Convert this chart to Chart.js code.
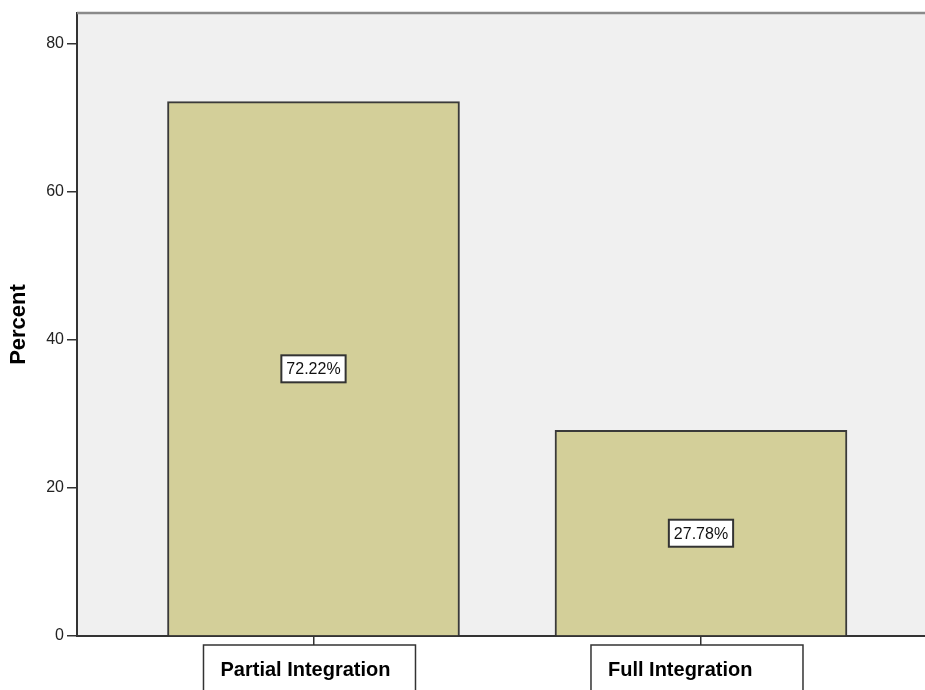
<!DOCTYPE html>
<html>
<head>
<meta charset="utf-8">
<script src="https://cdn.jsdelivr.net/npm/chart.js@4.4.0/dist/chart.umd.min.js"></script>
<style>
  body { margin: 0; background: #fff; }
  #wrap { width: 925px; height: 690px; position: relative; }
</style>
</head>
<body>
<div id="wrap"><canvas id="chart"></canvas></div>
<script>
// data
const categories = ['Partial Integration', 'Full Integration'];
const percents = [72.22, 27.78];
const yTicks = [0, 20, 40, 60, 80];

const FONT = "'Liberation Sans', Arial, sans-serif";

// plot background, top border, value boxes and category boxes
const spssDecor = {
    id: 'spssDecor',
    beforeDraw(chart) {
        const { ctx, chartArea } = chart;
        ctx.save();
        ctx.fillStyle = '#F0F0F0';
        ctx.fillRect(chartArea.left, chartArea.top, chartArea.right - chartArea.left, chartArea.bottom - chartArea.top);
        ctx.restore();
    },
    afterDraw(chart) {
        const { ctx, chartArea } = chart;
        const xScale = chart.scales.x;
        const yScale = chart.scales.y;
        ctx.save();

        // top border of the plot frame
        ctx.strokeStyle = '#8a8a8a';
        ctx.lineWidth = 2.5;
        ctx.beginPath();
        ctx.moveTo(chartArea.left, chartArea.top);
        ctx.lineTo(chartArea.right, chartArea.top);
        ctx.stroke();

        // value labels in the middle of each bar
        ctx.font = '16px ' + FONT;
        ctx.textAlign = 'center';
        ctx.textBaseline = 'middle';
        percents.forEach(function(v, i) {
            const cx = xScale.getPixelForValue(i);
            const cy = yScale.getPixelForValue(v / 2);
            const txt = v.toFixed(2) + '%';
            const w = ctx.measureText(txt).width + 10;
            const h = 27;
            ctx.fillStyle = '#ffffff';
            ctx.fillRect(cx - w / 2, cy - h / 2, w, h);
            ctx.strokeStyle = '#333';
            ctx.lineWidth = 2;
            ctx.strokeRect(cx - w / 2, cy - h / 2, w, h);
            ctx.fillStyle = '#111';
            ctx.fillText(txt, cx, cy + 1);
        });

        // category labels in boxes under the axis
        ctx.font = 'bold 20px ' + FONT;
        ctx.textAlign = 'left';
        ctx.textBaseline = 'alphabetic';
        categories.forEach(function(name, i) {
            const tx = xScale.getPixelForValue(i);
            const left = tx - 110;
            const top = chartArea.bottom + 9;
            ctx.fillStyle = '#fff';
            ctx.fillRect(left, top, 212, 60);
            ctx.strokeStyle = '#333';
            ctx.lineWidth = 1.5;
            ctx.strokeRect(left, top, 212, 60);
            ctx.fillStyle = '#000';
            ctx.fillText(name, left + 17, top + 31);
        });

        ctx.restore();
    }
};

const ctx = document.getElementById('chart').getContext('2d');
const chart = new Chart(ctx, {
    type: 'bar',
    data: {
        datasets: [{
            label: 'Percent',
            data: percents.map(function(v, i) { return { x: i, y: v }; }),
            backgroundColor: '#D3CF99',
            borderColor: '#3a3a3a',
            borderWidth: 2,
            barThickness: 292
        }]
    },
    options: {
        responsive: true,
        maintainAspectRatio: false,
        animation: false,
        devicePixelRatio: 1,
        layout: { padding: { top: 13, right: 0, left: 0, bottom: 0 } },
        plugins: {
            legend: { display: false },
            tooltip: { enabled: false }
        },
        scales: {
            x: {
                type: 'linear',
                min: -0.6103,
                max: 1.5781,
                offset: false,
                afterBuildTicks: function(scale) {
                    scale.ticks = categories.map(function(c, i) { return { value: i }; });
                },
                afterFit: function(scale) { scale.height = 54; },
                border: { display: true, color: '#333', width: 2 },
                grid: { display: true, drawOnChartArea: false, offset: false, tickLength: 9, color: '#333', lineWidth: 1.5 },
                ticks: { callback: function() { return ''; } }
            },
            y: {
                min: 0,
                max: 84.2,
                afterBuildTicks: function(scale) {
                    scale.ticks = yTicks.map(function(v) { return { value: v }; });
                },
                afterFit: function(scale) { scale.width = 77; },
                border: { display: true, color: '#333', width: 2 },
                grid: { display: true, drawOnChartArea: false, tickLength: 10, color: '#333', lineWidth: 1.5 },
                ticks: {
                    padding: 3,
                    color: '#222',
                    font: { size: 16, family: FONT }
                },
                title: {
                    display: true,
                    text: 'Percent',
                    color: '#000',
                    font: { size: 22, weight: 'bold', family: FONT },
                    padding: { top: 6, bottom: 0 }
                }
            }
        }
    },
    plugins: [spssDecor]
});
</script>
</body>
</html>
